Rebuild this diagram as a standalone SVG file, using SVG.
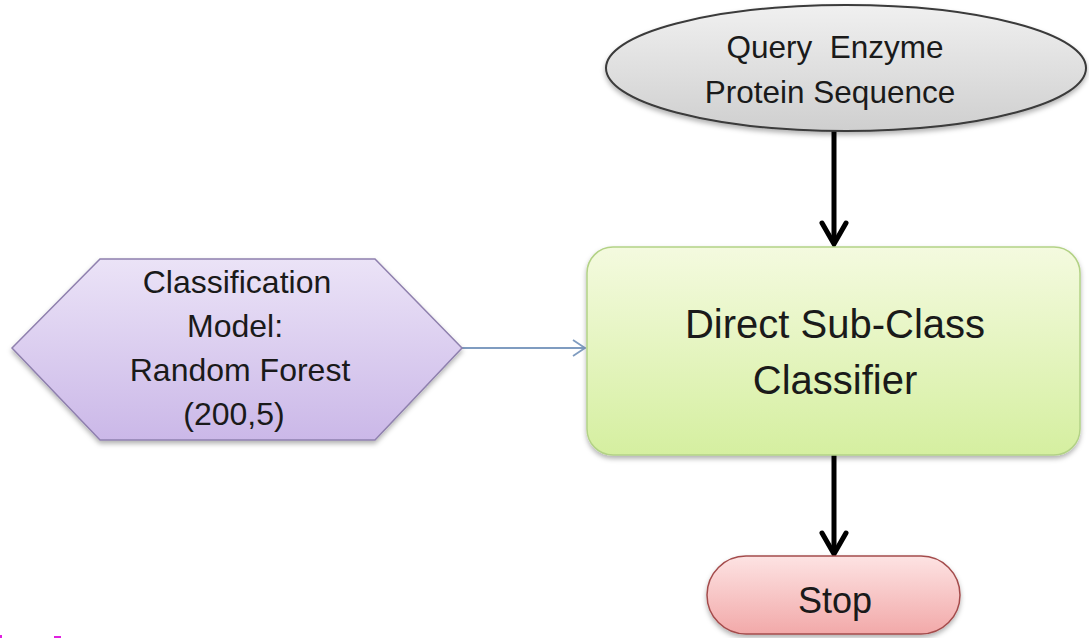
<svg xmlns="http://www.w3.org/2000/svg" width="1089" height="638" viewBox="0 0 1089 638">
  <defs>
    <style>
      .lbl { font-family: "Liberation Sans", Arial, sans-serif; fill: #1a1a1a; text-anchor: middle; }
      .flow { stroke: #000; stroke-width: 5; fill: none; stroke-linecap: butt; }
      .head { stroke: #000; stroke-width: 5; fill: none; stroke-linecap: round; stroke-linejoin: miter; }
      .link { stroke: #7f9cc0; stroke-width: 1.8; fill: none; }
    </style>
    <linearGradient id="gGrey" x1="0" y1="0" x2="0" y2="1">
      <stop offset="0" stop-color="#f0f0f0"/>
      <stop offset="1" stop-color="#cfcfcf"/>
    </linearGradient>
    <linearGradient id="gLilac" x1="0" y1="0" x2="0" y2="1">
      <stop offset="0" stop-color="#ebe3f7"/>
      <stop offset="1" stop-color="#cbb8e8"/>
    </linearGradient>
    <linearGradient id="gGreen" x1="0" y1="0" x2="0" y2="1">
      <stop offset="0" stop-color="#f4fadf"/>
      <stop offset="1" stop-color="#d5efa0"/>
    </linearGradient>
    <linearGradient id="gPink" x1="0" y1="0" x2="0" y2="1">
      <stop offset="0" stop-color="#fde3e3"/>
      <stop offset="1" stop-color="#f2a9a9"/>
    </linearGradient>
    <filter id="shadow" x="-10%" y="-10%" width="120%" height="130%">
      <feDropShadow dx="0" dy="3" stdDeviation="2.5" flood-color="#000" flood-opacity="0.3"/>
    </filter>
  </defs>

  <rect width="1089" height="638" fill="#ffffff"/>

  <!-- connectors -->
  <g id="connectors">
    <line class="flow" x1="834" y1="131" x2="834" y2="243"/>
    <polyline class="head" points="822,223 834,244 846,223"/>
    <line class="flow" x1="834" y1="455" x2="834" y2="553"/>
    <polyline class="head" points="822,533 834,554 846,533"/>
    <line class="link" x1="462" y1="348" x2="585" y2="348"/>
    <polyline class="link" points="573,340 585,348 573,356"/>
  </g>

  <!-- start node -->
  <g id="query">
    <ellipse cx="846" cy="68" rx="240" ry="63" fill="url(#gGrey)" stroke="#3a3a3a" stroke-width="2" filter="url(#shadow)"/>
    <text class="lbl" x="835" y="58" font-size="31.5" style="white-space:pre">Query  Enzyme</text>
    <text class="lbl" x="830" y="103" font-size="31.5">Protein Sequence</text>
  </g>

  <!-- model input -->
  <g id="model">
    <polygon points="12,348 100,259 375,259 462,348 375,440 100,440" fill="url(#gLilac)" stroke="#8f80ae" stroke-width="1.5" filter="url(#shadow)"/>
    <text class="lbl" x="237" y="293" font-size="32">Classification</text>
    <text class="lbl" x="235" y="337" font-size="32">Model:</text>
    <text class="lbl" x="240" y="381" font-size="32">Random Forest</text>
    <text class="lbl" x="234" y="425" font-size="32">(200,5)</text>
  </g>

  <!-- classifier -->
  <g id="classifier">
    <rect x="587" y="247" width="493" height="208" rx="26" ry="26" fill="url(#gGreen)" stroke="#b3d286" stroke-width="1.5" filter="url(#shadow)"/>
    <text class="lbl" x="835" y="338" font-size="40">Direct Sub-Class</text>
    <text class="lbl" x="835" y="394" font-size="40">Classifier</text>
  </g>

  <!-- end node -->
  <g id="stop">
    <rect x="707" y="556" width="253" height="78" rx="39" ry="39" fill="url(#gPink)" stroke="#a44c4c" stroke-width="1.5" filter="url(#shadow)"/>
    <text class="lbl" x="835" y="613" font-size="36">Stop</text>
  </g>

  <!-- magenta marks along the lower edge -->
  <rect x="0" y="635" width="2" height="3" fill="#e020e0"/>
  <rect x="54" y="636" width="7" height="2" fill="#e020e0"/>
</svg>
